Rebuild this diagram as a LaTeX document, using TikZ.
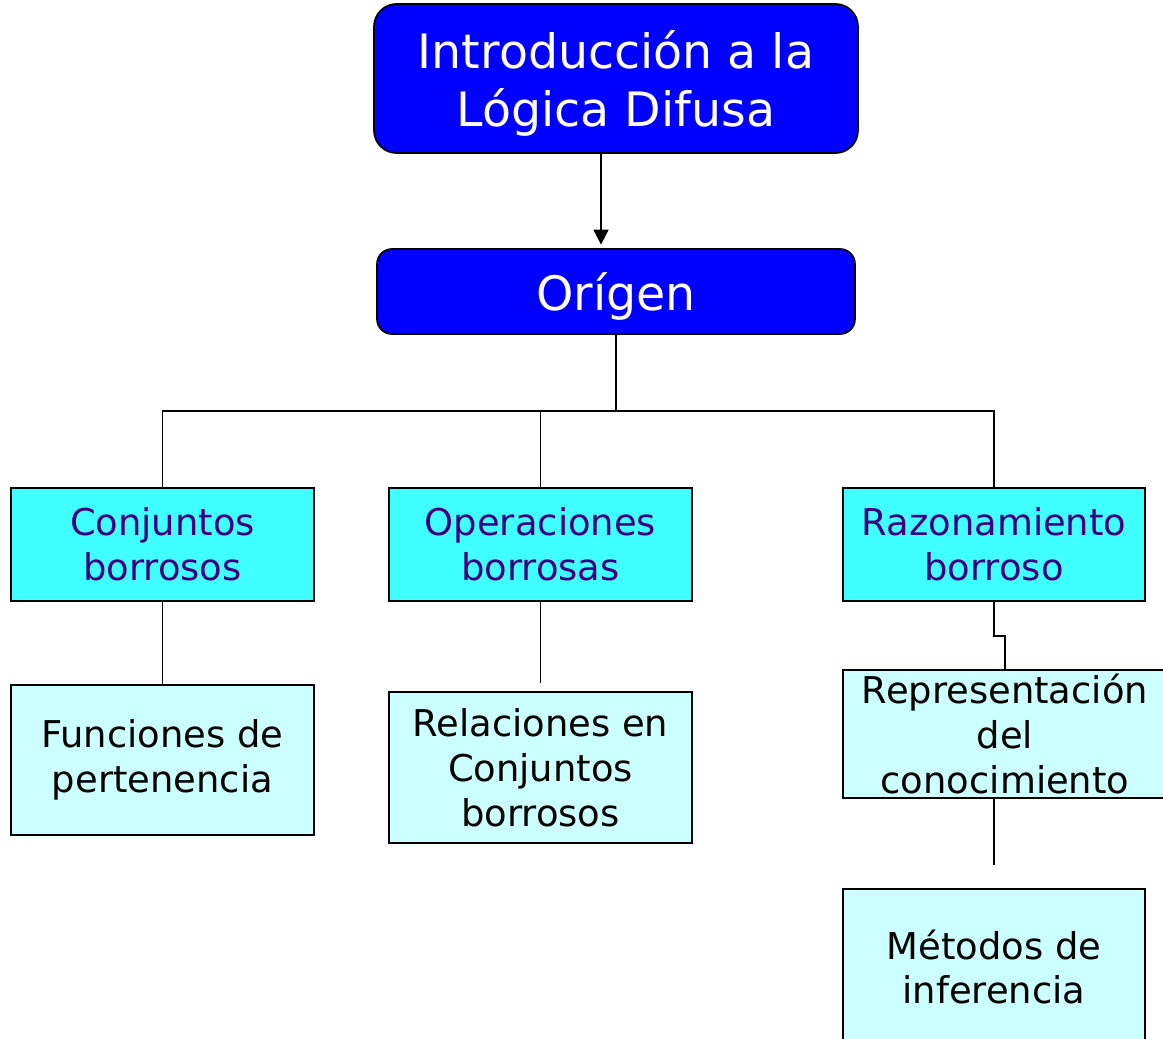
\documentclass[tikz,border=0pt]{standalone}
\usepackage{fontspec}
\setmainfont{DejaVu Sans}
\usetikzlibrary{arrows.meta,calc}
\definecolor{titleblue}{rgb}{0,0,1}
\definecolor{subcyan}{HTML}{40FFFF}
\definecolor{leafcyan}{HTML}{CCFFFF}
\definecolor{subtext}{HTML}{3D0080}
\tikzset{
	>={Triangle[length=8.5pt,width=8.5pt]},
	titlebox/.style={
		rectangle,
		fill=titleblue,
		draw=black, line width=1pt,
		text=white,
		font=\fontsize{27}{33.5}\selectfont,
		align=center,
		text depth=0pt,
		inner sep=0pt},
	subbox/.style={
		rectangle,
		fill=subcyan,
		draw=black, line width=1pt,
		text=subtext,
		font=\fontsize{21}{25.5}\selectfont,
		minimum width=6.06cm,
		minimum height=2.26cm,
		align=center,
		inner sep=0pt},
	leafbox/.style={
		rectangle,
		fill=leafcyan,
		draw=black, line width=1pt,
		text=black,
		font=\fontsize{21}{25.5}\selectfont,
		minimum width=6.06cm,
		align=center,
		inner sep=0pt},
	line/.style={draw, line width=0.9pt},
}
\begin{document}
\begin{tikzpicture}
[x=0.02cm, y=-0.02cm]
\useasboundingbox (0,0) rectangle (1163,1038);
\node[titlebox, minimum width=9.68cm, minimum height=2.98cm, rounded corners=0.45cm] (intro) at (616,78.5) {Introducción a la\\Lógica Difusa};
\node[titlebox, minimum width=9.56cm, minimum height=1.70cm, rounded corners=0.3cm] (origen) at (616,291.5) {Orígen};
\node[subbox] (conj) at (162.5,544.5) {Conjuntos\\borrosos};
\node[subbox] (oper) at (540.5,544.5) {Operaciones\\borrosas};
\node[subbox, minimum width=6.04cm] (razo) at (994,544.5) {Razonamiento\\borroso};
\node[leafbox, minimum height=3.00cm] (func) at (162.5,760) {Funciones de\\pertenencia};
\node[leafbox, minimum height=3.02cm] (rela) at (540.5,767.5) {Relaciones en\\Conjuntos\\borrosos};
\node[leafbox, minimum width=6.48cm, minimum height=2.56cm] (repr) at (1005,734) {Representación\\del\\conocimiento};
\node[leafbox, minimum width=6.04cm, minimum height=3.12cm] (meto) at (994,967) {Métodos de\\inferencia};
\coordinate (bus) at (616,411);
\coordinate (opergap) at ([yshift=0.16cm]rela.north);
\coordinate (metogap) at ([yshift=0.46cm]meto.north);
\draw[line, ->, shorten >=2pt] ([xshift=-0.3cm]intro.south) -- ([xshift=-0.3cm]origen.north);
\draw[line] (origen.south) -- (bus);
\draw[line] (conj.north) |- (bus) -| (razo.north);
\draw[line] (oper.north) -- (oper.north |- bus);
\draw[line] (conj.south) -- (func.north);
\draw[line] (oper.south) -- (opergap);
\draw[line] (razo.south) -- ++(0,34) -| (repr.north);
\draw[line] (metogap |- repr.south) -- (metogap);
\end{tikzpicture}
\end{document}
